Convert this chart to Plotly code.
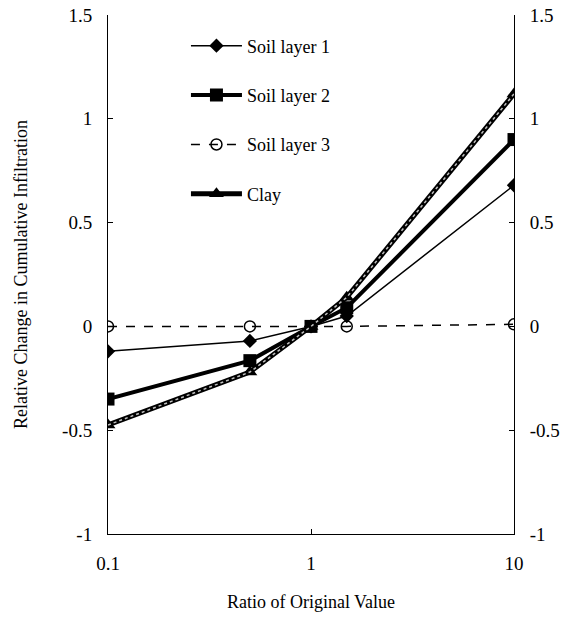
import plotly.graph_objects as go

ratio = [0.1, 0.5, 1, 1.5, 10]
soil1 = [-0.12, -0.07, 0.0, 0.05, 0.68]
soil2 = [-0.35, -0.165, 0.0, 0.09, 0.90]
soil3 = [0.0, 0.0, 0.0, 0.0, 0.01]
clay = [-0.475, -0.22, 0.0, 0.14, 1.12]
y_ticks = [-1, -0.5, 0, 0.5, 1, 1.5]
y_ticktext = ["-1", "-0.5", "0", "0.5", "1", "1.5"]
x_ticks = [0.1, 1, 10]
x_ticktext = ["0.1", "1", "10"]

FONT = "Liberation Serif"

fig = go.Figure()
fig.add_trace(go.Scatter(x=ratio, y=soil1, name="Soil layer 1", mode="lines+markers",
                         line=dict(color="black", width=1.5),
                         marker=dict(symbol="diamond", size=11, color="black"),
                         legendgroup="a"))
fig.add_trace(go.Scatter(x=ratio, y=soil2, name="Soil layer 2", mode="lines+markers",
                         line=dict(color="black", width=4),
                         marker=dict(symbol="square", size=13, color="black"),
                         legendgroup="b"))
fig.add_trace(go.Scatter(x=ratio, y=soil3, name="Soil layer 3", mode="lines+markers",
                         line=dict(color="black", width=1.5, dash="dash"),
                         marker=dict(symbol="circle-open", size=11, color="black",
                                     line=dict(width=1.5, color="black")),
                         legendgroup="c"))
fig.add_trace(go.Scatter(x=ratio, y=clay, name="Clay", mode="lines+markers",
                         line=dict(color="black", width=5),
                         marker=dict(symbol="triangle-up", size=13, color="black"),
                         legendgroup="d"))
fig.add_trace(go.Scatter(x=ratio, y=clay, mode="lines", showlegend=False,
                         line=dict(color="#c0c0c0", width=1.5, dash="dot"),
                         hoverinfo="skip"))
# invisible trace for the right axis
fig.add_trace(go.Scatter(x=ratio, y=soil3, yaxis="y2", mode="lines", showlegend=False,
                         line=dict(color="rgba(0,0,0,0)"), hoverinfo="skip"))

axis_common = dict(showgrid=False, zeroline=False, showline=True, linecolor="black",
                   linewidth=1, ticks="inside", ticklen=5, tickcolor="black",
                   ticklabeloverflow="allow", automargin=False,
                   tickfont=dict(family=FONT, size=19, color="black"))

fig.update_layout(
    width=568, height=617,
    margin=dict(l=108, r=54, t=15, b=83, autoexpand=False),
    paper_bgcolor="white", plot_bgcolor="white",
    font=dict(family=FONT, size=18, color="black"),
    showlegend=True,
    legend=dict(x=0.192, y=0.976, xanchor="left", yanchor="top", itemwidth=51,
                bgcolor="rgba(0,0,0,0)", tracegroupgap=23,
                font=dict(family=FONT, size=18, color="black")),
    xaxis=dict(type="log", range=[-1, 1], tickvals=x_ticks, ticktext=x_ticktext,
               title=dict(text="Ratio of Original Value", font=dict(family=FONT, size=18), standoff=22),
               ticklabelstandoff=12,
               **axis_common),
    yaxis=dict(range=[-1, 1.5], tickvals=y_ticks, ticktext=y_ticktext,
               title=dict(text="Relative Change in Cumulative Infiltration",
                          font=dict(family=FONT, size=18), standoff=29),
               ticklabelstandoff=11,
               **axis_common),
    yaxis2=dict(range=[-1, 1.5], tickvals=y_ticks, ticktext=y_ticktext,
                overlaying="y", side="right", ticklabelstandoff=11, **axis_common),
)

fig.write_html("out.html", config={"displayModeBar": False},
               post_script="document.body.style.margin='0px';")
